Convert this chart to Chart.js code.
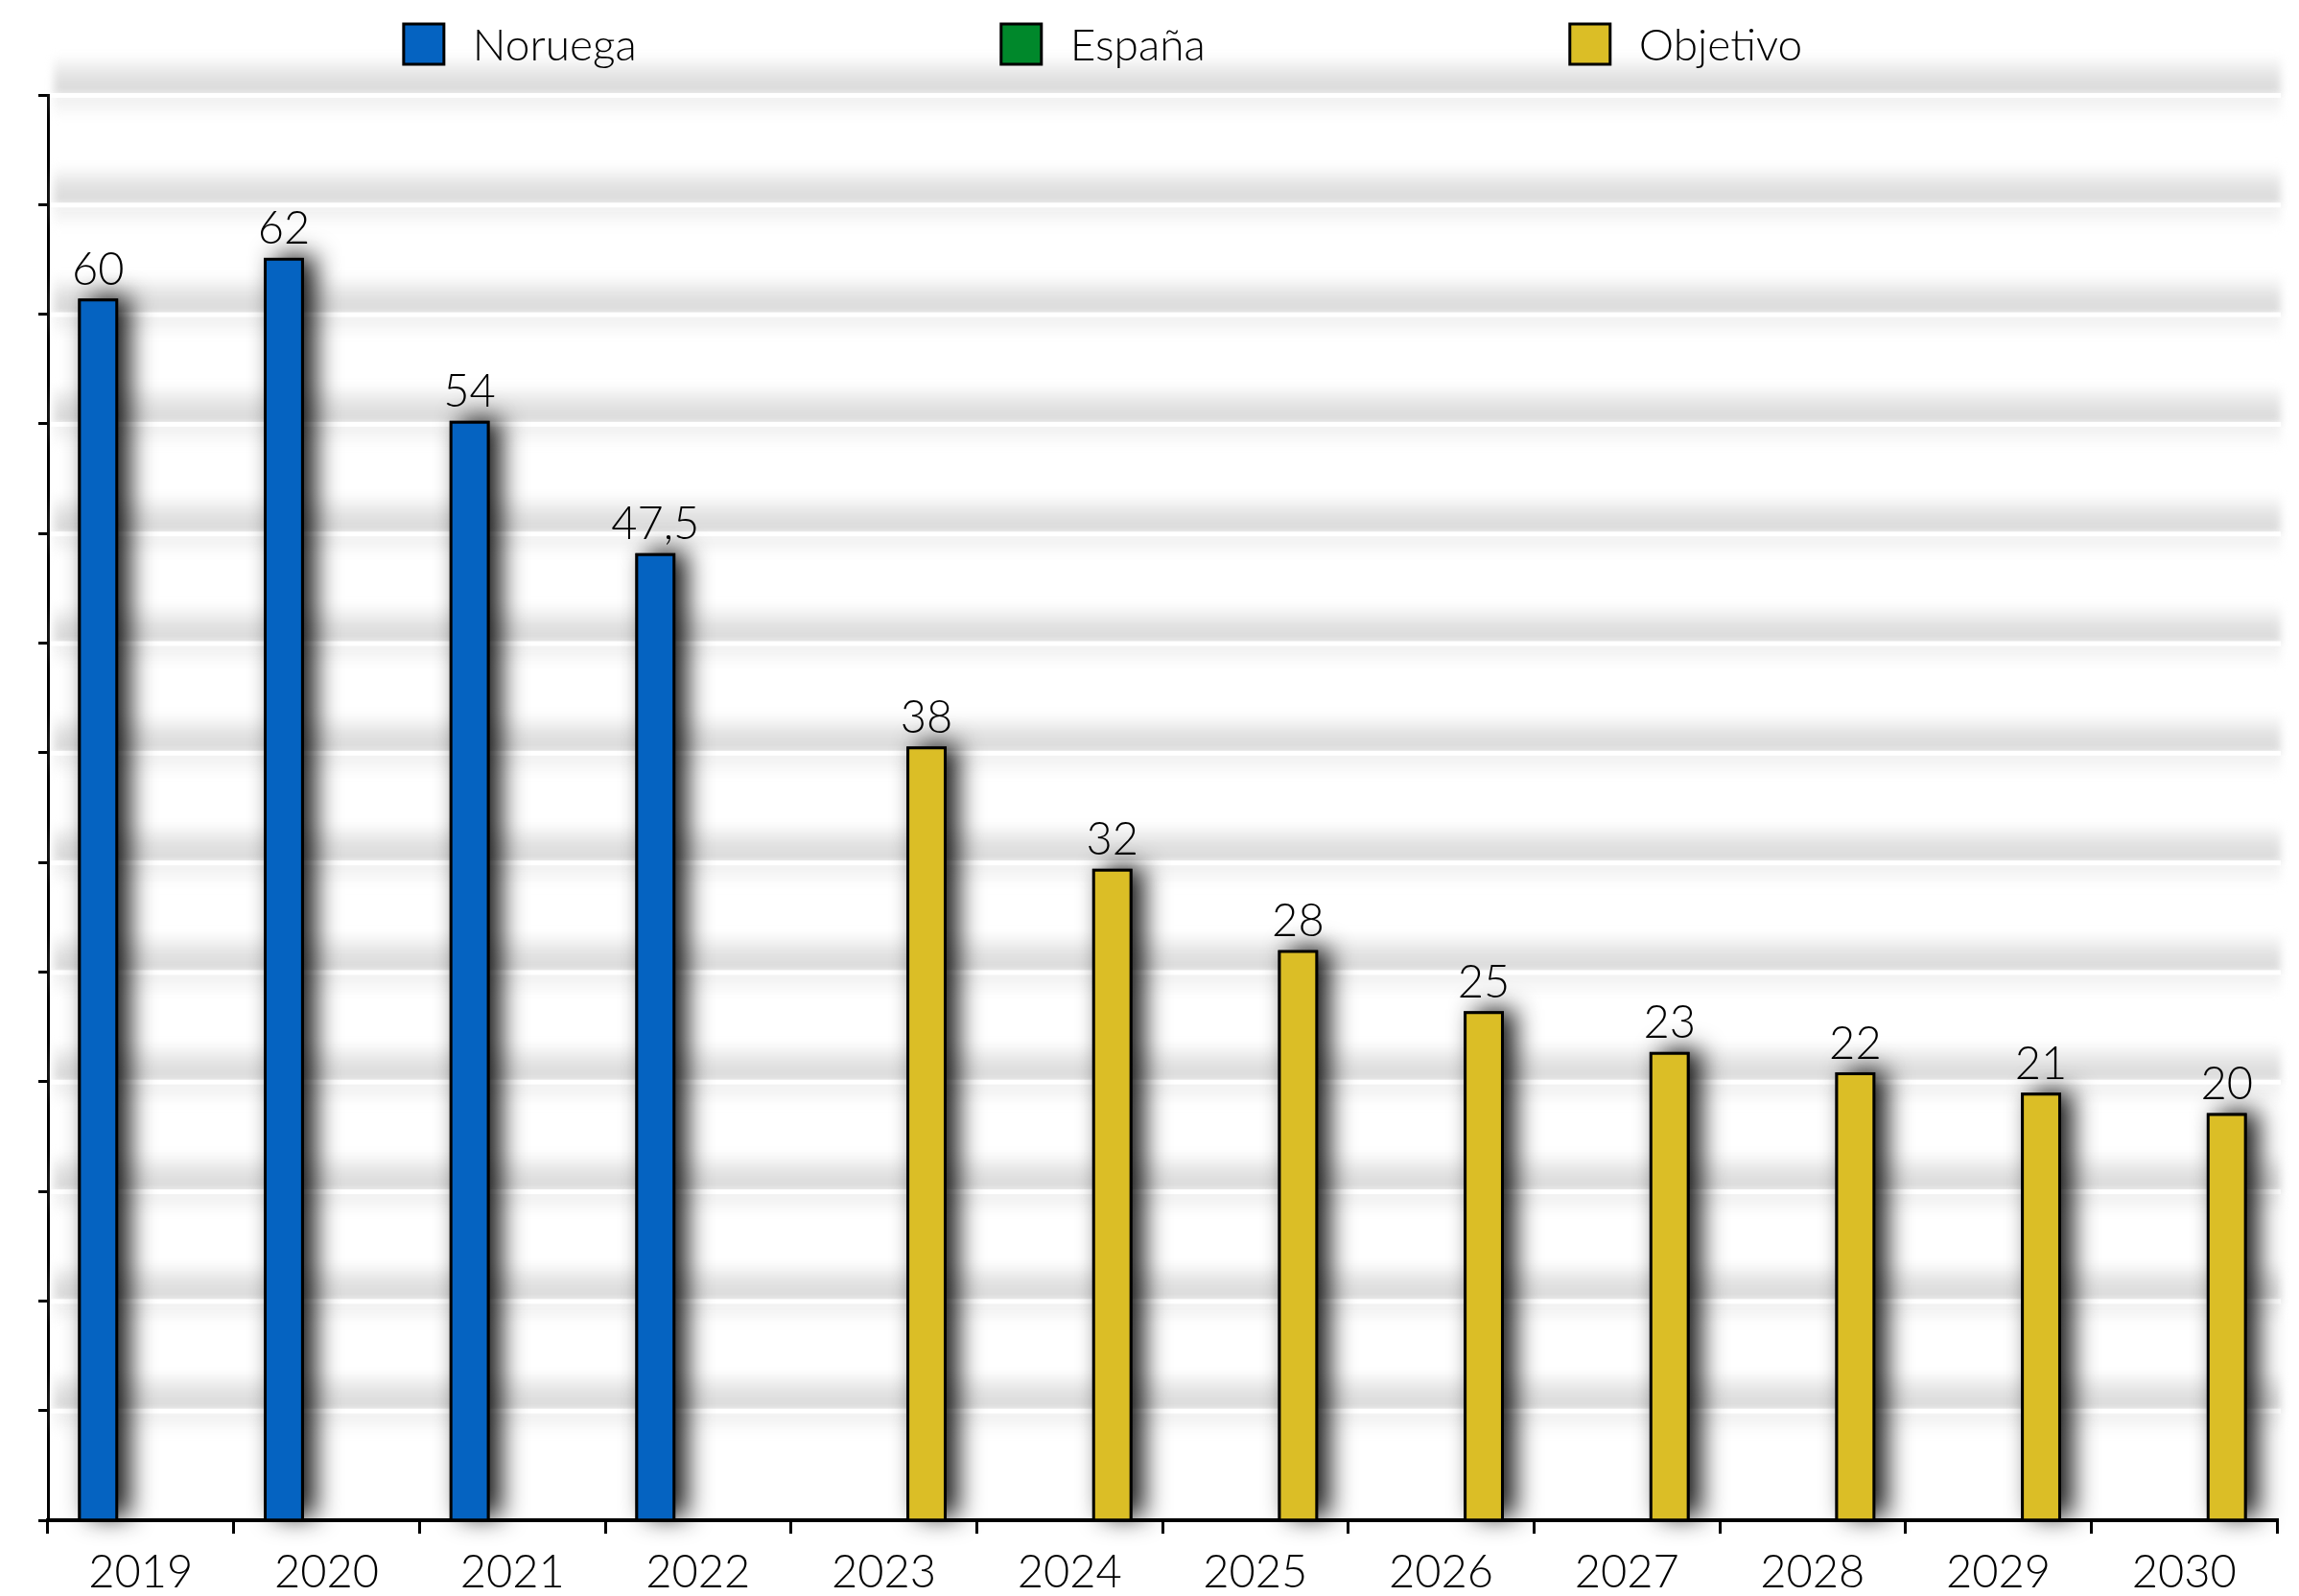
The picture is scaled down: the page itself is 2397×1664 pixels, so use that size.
<!DOCTYPE html>
<html lang="es">
<head>
  <meta charset="UTF-8">
  <title>Noruega - Objetivo</title>
  <script src="https://cdn.jsdelivr.net/npm/chart.js"></script>
  <style>
    html, body { margin: 0; padding: 0; background: #fff; }
    #wrap { width: 2397px; height: 1664px; position: relative; }
  </style>
</head>
<body>
  <div id="wrap"><canvas id="chart"></canvas></div>

  <script>
    // values
    const years = ['2019', '2020', '2021', '2022', '2023', '2024', '2025', '2026', '2027', '2028', '2029', '2030'];
    const noruega = [60, 62, 54, 47.5, null, null, null, null, null, null, null, null];
    const espana = [null, null, null, null, null, null, null, null, null, null, null, null];
    const objetivo = [null, null, null, null, 38, 32, 28, 25, 23, 22, 21, 20];
    const seriesNames = ['Noruega', 'España', 'Objetivo'];
    const seriesColors = ['#0563C1', '#00882B', '#DBBE26'];

    const FONT = '"Lato", "Open Sans", sans-serif';
    Chart.defaults.color = '#000';
    Chart.defaults.font.family = FONT;

    const fmt = v => String(v).replace('.', ',');

    // gray "embossed" grid bands + shadow under the bars
    const decor = {
      id: 'decor',
      beforeDatasetsDraw(chart) {
        const { ctx, chartArea, scales } = chart;
        const y = scales.y;
        ctx.save();
        y.ticks.forEach(t => {
          if (t.value === 0) return;
          const py = y.getPixelForValue(t.value);
          const x0 = chartArea.left + 6;
          const w = chartArea.right - x0 + 4;
          ctx.filter = 'blur(4px)';
          const g = ctx.createLinearGradient(0, py - 42, 0, py - 2);
          g.addColorStop(0, 'rgba(220,220,220,0)');
          g.addColorStop(0.6, 'rgba(220,220,220,0.85)');
          g.addColorStop(1, '#dadada');
          ctx.fillStyle = g;
          ctx.fillRect(x0, py - 42, w, 42);
          const g2 = ctx.createLinearGradient(0, py + 2, 0, py + 26);
          g2.addColorStop(0, '#eeeeee');
          g2.addColorStop(1, 'rgba(240,240,240,0)');
          ctx.fillStyle = g2;
          ctx.fillRect(x0, py + 2, w, 24);
          ctx.filter = 'none';
          ctx.fillStyle = '#fff';
          ctx.fillRect(x0 - 4, py - 2, w + 4, 5);
        });
        ctx.restore();

        // bar shadows (the bar itself is clipped by Chart.js, so draw them apart)
        ctx.save();
        ctx.shadowColor = 'rgba(0,0,0,0.9)';
        ctx.shadowBlur = 26;
        ctx.shadowOffsetX = 12;
        ctx.shadowOffsetY = -2;
        ctx.fillStyle = '#000';
        chart.data.datasets.forEach((ds, i) => {
          chart.getDatasetMeta(i).data.forEach((bar, j) => {
            if (ds.data[j] === null) return;
            const p = bar.getProps(['x', 'y', 'base', 'width'], true);
            ctx.fillRect(p.x - p.width / 2, p.y, p.width, p.base - p.y);
          });
        });
        ctx.restore();
      },
      afterDatasetsDraw(chart) {
        const { ctx } = chart;
        // value labels
        ctx.save();
        ctx.font = '300 47px ' + FONT;
        ctx.fillStyle = '#000';
        ctx.textAlign = 'center';
        ctx.textBaseline = 'bottom';
        chart.data.datasets.forEach((ds, i) => {
          const meta = chart.getDatasetMeta(i);
          meta.data.forEach((bar, j) => {
            const v = ds.data[j];
            if (v === null || v === undefined) return;
            ctx.fillText(fmt(v), bar.x, bar.y - 6);
          });
        });
        ctx.restore();
      },
      afterDraw(chart) {
        // legend row
        const { ctx } = chart;
        ctx.save();
        ctx.font = '300 46px ' + FONT;
        ctx.textBaseline = 'middle';
        const box = 42, gapText = 30, gap = 380, cy = 46;
        const items = chart.data.datasets.map(ds => ({
          text: ds.label, color: ds.backgroundColor,
          w: box + gapText + ctx.measureText(ds.label).width
        }));
        const total = items.reduce((a, it) => a + it.w, 0) + gap * (items.length - 1);
        let x = 1150 - total / 2;
        items.forEach(it => {
          ctx.fillStyle = it.color;
          ctx.fillRect(x, cy - box / 2, box, box);
          ctx.lineWidth = 3;
          ctx.strokeStyle = '#000';
          ctx.strokeRect(x, cy - box / 2, box, box);
          ctx.fillStyle = '#000';
          ctx.fillText(it.text, x + box + gapText, cy + 2);
          x += it.w + gap;
        });
        ctx.restore();
      }
    };

    const makeSet = (i, data) => ({
      label: seriesNames[i],
      data: data,
      backgroundColor: seriesColors[i],
      borderColor: '#000',
      borderWidth: 3,
      borderSkipped: 'bottom',
      categoryPercentage: 0.69,
      barPercentage: 0.94
    });

    new Chart(document.getElementById('chart'), {
      type: 'bar',
      data: {
        labels: years,
        datasets: [makeSet(0, noruega), makeSet(1, espana), makeSet(2, objetivo)]
      },
      options: {
        responsive: true,
        maintainAspectRatio: false,
        devicePixelRatio: 1,
        animation: false,
        layout: { padding: { top: 99, left: 40, right: 23, bottom: -16 } },
        plugins: {
          legend: { display: false },
          tooltip: { enabled: false }
        },
        scales: {
          x: {
            grid: { drawOnChartArea: false, drawTicks: true, tickLength: 14, color: '#000', lineWidth: 3, offset: true },
            border: { display: true, color: '#000', width: 4 },
            ticks: { font: { size: 47, weight: '300', lineHeight: 1 }, padding: 17, color: '#000' }
          },
          y: {
            min: 0,
            max: 70,
            grid: { drawOnChartArea: false, drawTicks: true, tickLength: 10, color: '#000', lineWidth: 3 },
            border: { display: true, color: '#000', width: 3 },
            ticks: { display: false, count: 14 }
          }
        }
      },
      plugins: [decor]
    });
  </script>
</body>
</html>
